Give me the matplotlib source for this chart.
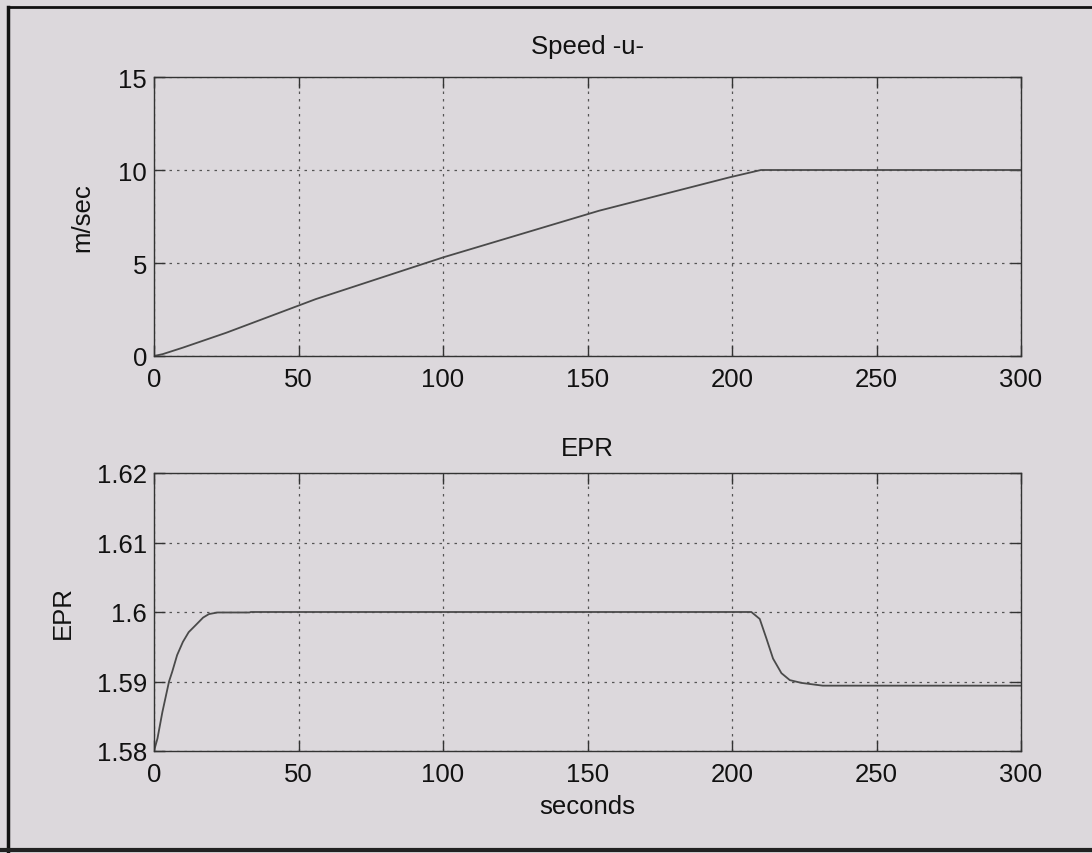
import matplotlib

matplotlib.use("Agg")
import matplotlib.pyplot as plt
from matplotlib.lines import Line2D

# Scanned MATLAB figure: paper grey, dark grey traces, dotted grid.
_PAPER = "#dcd8dc"
_INK = "#111111"
_TRACE = "#4a4a4a"
_GRID = "#555555"

# Speed -u- (m/sec) vs time (s)
speed_t = [0, 3, 10, 25, 56, 100, 154, 199, 210, 300]
speed_v = [0, 0.1, 0.45, 1.25, 3.06, 5.3, 7.81, 9.6, 10.0, 10.0]

# EPR vs time (s)
epr_t = [0, 1.2, 2.9, 5.2, 6.3, 8, 10, 12, 14.4, 17, 19, 22, 33, 33.5,
         206.7, 209.6, 211.9, 214.2, 217.1, 220, 224, 231.4, 300]
epr_v = [1.5800, 1.5818, 1.5856, 1.5900, 1.5914, 1.5938, 1.5957, 1.5971, 1.5981,
         1.5992, 1.5997, 1.59993, 1.59993, 1.6000,
         1.6000, 1.5990, 1.5962, 1.5933, 1.5912, 1.5902, 1.5898, 1.5894, 1.5894]

x_ticks = [0, 50, 100, 150, 200, 250, 300]
speed_ticks = [0, 5, 10, 15]
epr_ticks = [1.58, 1.59, 1.60, 1.61, 1.62]
epr_labels = ["1.58", "1.59", "1.6", "1.61", "1.62"]

plt.rcParams["font.family"] = ["Liberation Sans", "DejaVu Sans"]
FS = 18.5

fig = plt.figure(figsize=(10.92, 8.54), dpi=100)
fig.patch.set_facecolor(_PAPER)

W, H = 1092, 854
left, right = 154 / W, 1021 / W
ax1 = fig.add_axes([left, 1 - 357 / H, right - left, (357 - 78) / H])
ax2 = fig.add_axes([left, 1 - 752 / H, right - left, (752 - 474) / H])


def style(ax):
    ax.set_facecolor(_PAPER)
    for side in ("top", "bottom", "left", "right"):
        ax.spines[side].set_color("#333333")
        ax.spines[side].set_linewidth(1.0)
    ax.tick_params(direction="in", length=8, width=1, colors="#333333",
                   labelcolor=_INK, labelsize=FS, top=True, right=True, pad=5)
    ax.tick_params(axis="x", pad=8)
    ax.grid(True, linestyle=(0, (2, 4)), color=_GRID, linewidth=0.9)
    ax.set_axisbelow(True)
    ax.set_xlim(0, 300)
    ax.set_xticks(x_ticks)


style(ax1)
ax1.plot(speed_t, speed_v, color=_TRACE, linewidth=1.3)
ax1.set_ylim(0, 15)
ax1.set_yticks(speed_ticks)
ax1.set_title("Speed -u-", fontsize=FS, color=_INK, pad=17)
ax1.set_ylabel("m/sec", fontsize=FS, color=_INK, labelpad=17)

style(ax2)
ax2.plot(epr_t, epr_v, color=_TRACE, linewidth=1.3)
ax2.set_ylim(1.58, 1.62)
ax2.set_yticks(epr_ticks)
ax2.set_yticklabels(epr_labels)
ax2.set_title("EPR", fontsize=FS, color=_INK, pad=13)
ax2.set_ylabel("EPR", fontsize=FS, color=_INK, labelpad=16)
ax2.set_xlabel("seconds", fontsize=FS, color=_INK, labelpad=6)

# scan border
fig.add_artist(Line2D([8 / W, 8 / W], [0, 1 - 8 / H], color="#111111", linewidth=2.5))
fig.add_artist(Line2D([8 / W, 1], [1 - 8 / H, 1 - 8 / H], color="#111111", linewidth=2.0))
fig.add_artist(Line2D([0, 1], [3 / H, 3 / H], color="#222222", linewidth=3.0))

fig.savefig("out.png", dpi=100, facecolor=_PAPER)
